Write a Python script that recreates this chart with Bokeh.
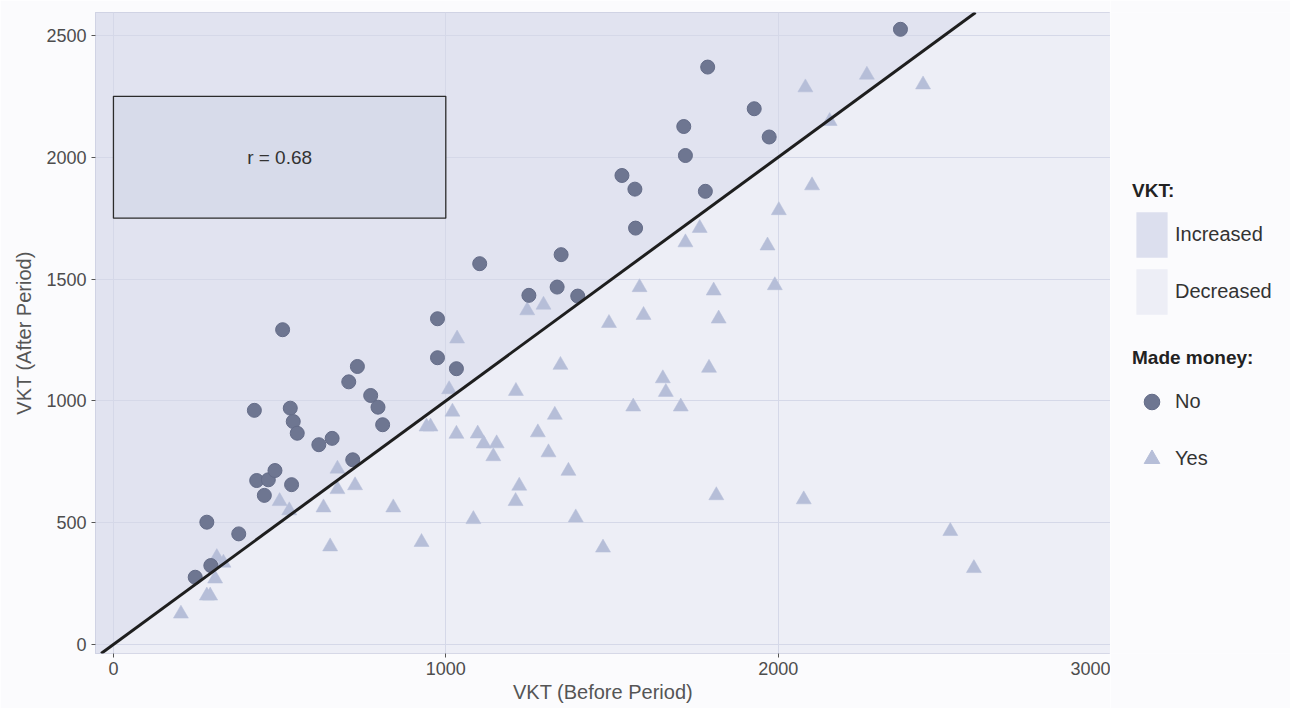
from bokeh.plotting import figure
from bokeh.layouts import row
from bokeh.models import Range1d, Legend, LegendItem, Label, Slope, FixedTicker
from bokeh.embed import file_html
from bokeh.resources import INLINE

# ---------------- data ----------------
no_before = [246, 293, 281, 377, 454, 431, 466, 486, 536, 720, 424, 532, 541, 553, 618, 658,
             509, 708, 734, 774, 796, 810, 975, 975, 1032, 1102, 1250, 1335, 1347, 1397,
             1530, 1569, 1571, 1716, 1721, 1781, 1788, 1928, 1973, 2368]
no_after = [276, 324, 502, 454, 612, 673, 676, 714, 656, 758, 961, 970, 915, 867, 820, 846,
            1292, 1078, 1141, 1022, 974, 902, 1337, 1177, 1132, 1563, 1433, 1467, 1600, 1430,
            1925, 1869, 1709, 2126, 2007, 1860, 2370, 2199, 2083, 2525]

yes_before = [203, 281, 291, 306, 311, 331, 500, 529, 632, 652, 674, 674, 727, 842, 927, 942,
              954, 1010, 1020, 1032, 1034, 1083, 1096, 1114, 1153, 1143, 1210, 1221, 1211,
              1245, 1277, 1294, 1309, 1328, 1345, 1369, 1391, 1473, 1491, 1564, 1583, 1595,
              1653, 1662, 1707, 1721, 1764, 1792, 1806, 1814, 1821, 1968, 1990, 2002, 2077,
              2082, 2102, 2155, 2267, 2436, 2518, 2589]
yes_after = [126, 200, 200, 270, 358, 335, 588, 550, 562, 402, 721, 637, 653, 562, 420, 894,
             894, 1047, 955, 864, 1255, 514, 865, 824, 825, 772, 588, 651, 1040,
             1371, 870, 1394, 788, 942, 1147, 712, 521, 397, 1319, 976, 1466, 1352,
             1092, 1036, 976, 1650, 1709, 1135, 1452, 612, 1337, 1637, 1474, 1782, 595,
             2286, 1884, 2148, 2338, 2298, 465, 313]

x_ticks = [0, 1000, 2000, 3000]
y_ticks = [0, 500, 1000, 1500, 2000, 2500]
r_text = "r = 0.68"
r_box_x = [0, 1000]
r_box_y = [1750, 2250]
vkt_labels = ["Increased", "Decreased"]
money_labels = ["No", "Yes"]

X_START, X_END = -54, 3000
Y_START, Y_END = -37, 2594

FONT = "Liberation Sans"
H = 708
BG = "#FBFBFD"
INC_COL = "#E1E3F0"
DEC_COL = "#EDEEF6"
NO_COL = "#6E7691"
YES_COL = "#B6BED8"

p = figure(width=1110, height=H, x_range=Range1d(X_START, X_END), y_range=Range1d(Y_START, Y_END),
           output_backend="svg", toolbar_location=None,
           min_border_left=95, min_border_right=0, min_border_top=12, min_border_bottom=H - 653,
           x_axis_label="VKT (Before Period)", y_axis_label="VKT (After Period)")

p.background_fill_color = DEC_COL
p.border_fill_color = BG
p.outline_line_color = "#BEC2D9"
p.outline_line_width = 1

# shaded regions above / below the 1:1 line
lo = min(X_START, Y_START) - 200
hi = max(X_END, Y_END) + 200
p.patch(x=[lo, lo, hi], y=[lo, hi, hi], fill_color=INC_COL, line_color=None, level="image")
p.patch(x=[lo, hi, hi], y=[lo, hi, lo], fill_color=DEC_COL, line_color=None, level="image")

# grid
p.xaxis.ticker = FixedTicker(ticks=x_ticks)
p.yaxis.ticker = FixedTicker(ticks=y_ticks)
p.xgrid.ticker = FixedTicker(ticks=x_ticks)
p.ygrid.ticker = FixedTicker(ticks=y_ticks)
for g in (p.xgrid, p.ygrid):
    g.grid_line_color = "#D5D8E8"
    g.grid_line_width = 1

# correlation box
p.quad(left=[r_box_x[0]], right=[r_box_x[1]], bottom=[r_box_y[0]], top=[r_box_y[1]],
       fill_color="#D7DBEA", line_color="#2b2b2b", line_width=1.3)
p.add_layout(Label(x=sum(r_box_x) / 2, y=sum(r_box_y) / 2, text=r_text, text_align="center",
                   text_baseline="middle", text_font=FONT, text_font_size="19px", text_color="#333333"))

# points
p.scatter(yes_before, yes_after, marker="triangle", size=15, fill_color=YES_COL,
          line_color=YES_COL, line_width=0.5)
p.scatter(no_before, no_after, marker="circle", size=14, fill_color=NO_COL,
          line_color="#646C88", line_width=1)

# 1:1 line
p.add_layout(Slope(gradient=1, y_intercept=0, line_color="#1E1E1E", line_width=3))

# axes
for ax in (p.xaxis, p.yaxis):
    ax.axis_line_color = None
    ax.major_tick_line_color = "#555555"
    ax.major_tick_out = 4
    ax.major_tick_in = 0
    ax.minor_tick_line_color = None
    ax.major_label_text_font = FONT
    ax.major_label_text_font_size = "18px"
    ax.major_label_text_color = "#4D4D4D"
    ax.axis_label_text_font = FONT
    ax.axis_label_text_font_size = "20px"
    ax.axis_label_text_font_style = "normal"
    ax.axis_label_text_color = "#555555"
p.xaxis.major_label_standoff = 4
p.xaxis.axis_label_standoff = 3
p.yaxis.major_label_standoff = 5
p.yaxis.axis_label_standoff = 8

# ---------------- legend panel ----------------
lf = figure(width=180, height=H, x_range=Range1d(0, 1), y_range=Range1d(0, 1),
            output_backend="svg", toolbar_location=None, x_axis_type=None, y_axis_type=None,
            min_border=0)
lf.outline_line_color = None
lf.background_fill_color = BG
lf.border_fill_color = BG
lf.xgrid.visible = False
lf.ygrid.visible = False

# key renderers: a single hidden item each (placed outside the visible range)
off = [-5]
inc_r = lf.quad(left=off, right=off, top=off, bottom=off, fill_color="#DCDFEE", line_color=None)
dec_r = lf.quad(left=off, right=off, top=off, bottom=off, fill_color=DEC_COL, line_color=None)
no_r = lf.scatter(x=off, y=off, marker="circle", size=14, fill_color=NO_COL, line_color="#646C88")
yes_r = lf.scatter(x=off, y=off, marker="triangle", size=15, fill_color=YES_COL, line_color=YES_COL)


def style(leg):
    leg.title_text_font = FONT
    leg.title_text_font_style = "bold"
    leg.title_text_font_size = "19px"
    leg.title_text_color = "#222222"
    leg.title_standoff = 4
    leg.label_text_font = FONT
    leg.label_text_font_size = "20px"
    leg.label_text_color = "#333333"
    leg.glyph_width = 39
    leg.glyph_height = 57
    leg.label_height = 57
    leg.label_standoff = 4
    leg.spacing = 0
    leg.padding = 0
    leg.margin = 0
    leg.border_line_color = None
    leg.background_fill_alpha = 0


leg1 = Legend(items=[LegendItem(label=vkt_labels[0], renderers=[inc_r]),
                     LegendItem(label=vkt_labels[1], renderers=[dec_r])],
              title="VKT:", location=(22, H - 375))
style(leg1)
leg2 = Legend(items=[LegendItem(label=money_labels[0], renderers=[no_r]),
                     LegendItem(label=money_labels[1], renderers=[yes_r])],
              title="Made money:", location=(22, H - 542))
style(leg2)
lf.add_layout(leg1)
lf.add_layout(leg2)

layout = row(p, lf, spacing=0)
open("out.html", "w").write(file_html(layout, INLINE))
